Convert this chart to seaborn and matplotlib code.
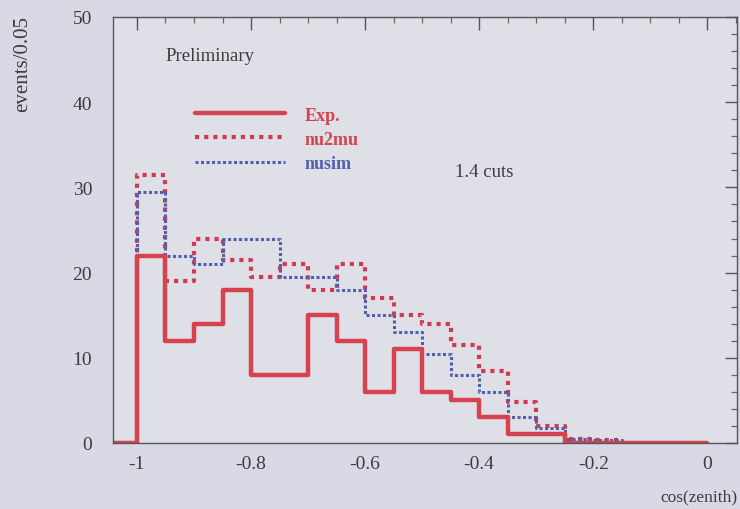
import numpy as np
import pandas as pd
import matplotlib
matplotlib.use("Agg")
import matplotlib.pyplot as plt
import seaborn as sns
from matplotlib.ticker import MultipleLocator

# ---- data (events per 0.05 bin of cos(zenith), from -1 to 0) ----
bin_lefts = [-1.00, -0.95, -0.90, -0.85, -0.80, -0.75, -0.70, -0.65, -0.60, -0.55,
             -0.50, -0.45, -0.40, -0.35, -0.30, -0.25, -0.20, -0.15, -0.10, -0.05]
exp_counts = [22, 12, 14, 18, 8, 8, 15, 12, 6, 11,
              6, 5, 3, 1, 1, 0, 0, 0, 0, 0]
nu2mu_counts = [31.5, 19, 24, 21.5, 19.5, 21, 18, 21, 17, 15,
                14, 11.5, 8.5, 4.8, 2, 0.5, 0.3, 0, 0, 0]
nusim_counts = [29.5, 22, 21, 24, 24, 19.5, 19.5, 18, 15, 13,
                10.5, 8, 6, 3, 1.8, 0.5, 0.3, 0, 0, 0]
series_names = ["Exp.", "nu2mu", "nusim"]
x_ticks = [-1, -0.8, -0.6, -0.4, -0.2, 0]
x_tick_labels = ["-1", "-0.8", "-0.6", "-0.4", "-0.2", "0"]
y_ticks = [0, 10, 20, 30, 40, 50]

bin_width = 0.05
# add an empty bin before -1 so the step line rises from zero at x=-1
centers = [bin_lefts[0] - bin_width / 2] + [b + bin_width / 2 for b in bin_lefts]
df = pd.DataFrame({
    "x": centers,
    "Exp.": [0] + exp_counts,
    "nu2mu": [0] + nu2mu_counts,
    "nusim": [0] + nusim_counts,
})

sns.set_theme(style="white")
plt.rcParams["font.family"] = ["Liberation Serif", "DejaVu Serif"]

bg = "#d9d9e5"
axbg = "#dfdfe7"
fig = plt.figure(figsize=(7.4, 5.1), dpi=100, facecolor=bg)
ax = fig.add_axes([113 / 740, 1 - 444 / 510, 624 / 740, 426 / 510], facecolor=axbg)

red = "#d6434f"
red2 = "#cf3b50"
blue = "#5060ac"
txt = "#3c3c3c"

styles = {
    "nu2mu": dict(color=red2, lw=3.0, linestyle=(0, (1, 1.2)), zorder=3),
    "nusim": dict(color=blue, lw=2.2, linestyle=(0, (1, 0.8)), zorder=4),
    "Exp.": dict(color=red, lw=3.2, linestyle="-", zorder=5),
}
handles = {}
for name in ["nu2mu", "nusim", "Exp."]:
    st = styles[name]
    sns.histplot(data=df, x="x", weights=name, bins=21,
                 binrange=(bin_lefts[0] - bin_width, 0.0),
                 element="step", fill=False, ax=ax,
                 color=st["color"], linewidth=st["lw"],
                 linestyle=st["linestyle"], zorder=st["zorder"])
    handles[name] = ax.lines[-1]

ax.set_xlim(-1.042, 0.052)
ax.set_ylim(0, 50)
ax.set_xticks(x_ticks)
ax.set_xticklabels(x_tick_labels)
ax.set_yticks(y_ticks)
ax.xaxis.set_minor_locator(MultipleLocator(0.05))
ax.yaxis.set_minor_locator(MultipleLocator(2))
ax.tick_params(axis="both", which="major", direction="in", length=9, width=1.0,
               colors="#555555", labelcolor=txt, labelsize=14,
               top=True, right=True)
ax.tick_params(axis="x", which="major", pad=9)
ax.tick_params(axis="y", which="major", pad=15)
ax.tick_params(axis="both", which="minor", direction="in", length=4, width=0.9,
               colors="#666666", top=True, right=True)
for s in ax.spines.values():
    s.set_color("#555555")
    s.set_linewidth(1.0)
    s.set_zorder(6)

ax.set_xlabel("")
ax.set_ylabel("")
fig.text(0.945, 0.025, "cos(zenith)", ha="center", va="center",
         fontsize=12.5, color=txt)
fig.text(0.03, 0.875, "events/0.05", ha="center", va="center",
         rotation=90, fontsize=15, color=txt)

ax.text(0.084, 0.91, "Preliminary", transform=ax.transAxes,
        fontsize=13.5, color=txt, ha="left", va="center")
ax.text(0.548, 0.638, "1.4 cuts", transform=ax.transAxes,
        fontsize=13.5, color=txt, ha="left", va="center")

leg = ax.legend([handles[n] for n in series_names], series_names,
                loc="upper left", bbox_to_anchor=(0.105, 0.828), frameon=False,
                handlelength=5.0, handletextpad=1.1, labelspacing=0.4,
                fontsize=13, labelcolor=[red, red, blue])
for t in leg.get_texts():
    t.set_fontweight("bold")

fig.savefig("out.png", dpi=100, facecolor=bg)
